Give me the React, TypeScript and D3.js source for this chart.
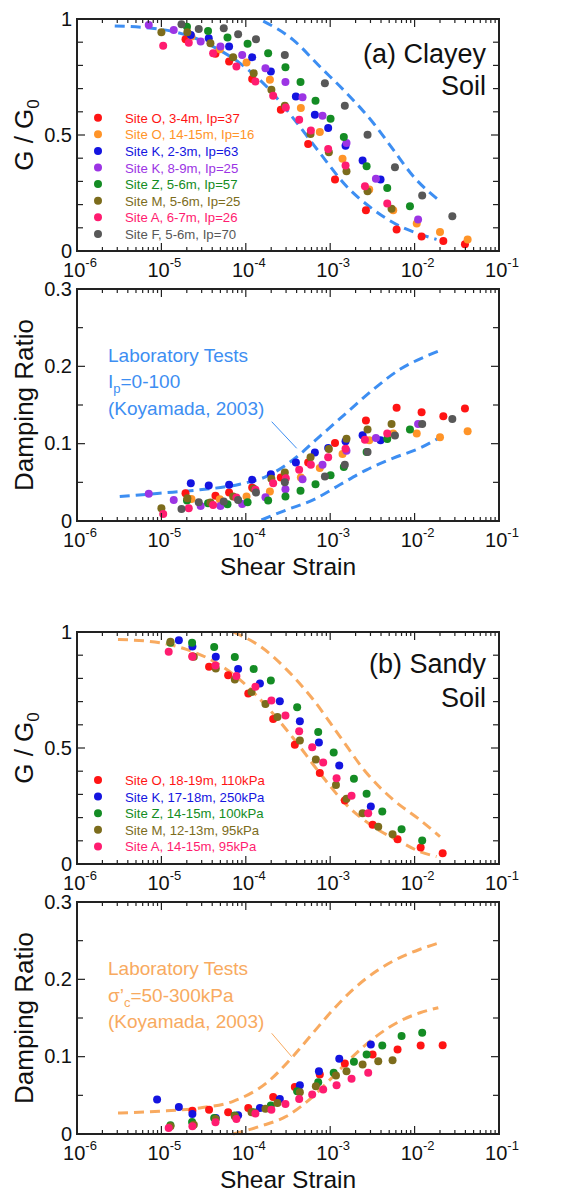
import React from 'react';
import * as d3 from 'd3';

type Pt = [number, number];

// ---------- (a) Clayey soil: [shear strain, G/G0] ----------
const clayG_O3: Pt[] = [[1.93e-5,0.913],[4.37e-5,0.850],[6.34e-5,0.817],[1.19e-4,0.741],[2.60e-4,0.609],[5.48e-4,0.461],[1.14e-3,0.308],[2.65e-3,0.176],[6.12e-3,0.093],[1.21e-2,0.062],[2.19e-2,0.043],[3.95e-2,0.029]];
const clayG_O14: Pt[] = [[2.27e-5,0.925],[4.92e-5,0.870],[1.02e-4,0.812],[1.93e-4,0.738],[4.49e-4,0.616],[7.53e-4,0.513],[1.40e-3,0.398],[2.90e-3,0.265],[5.58e-3,0.176],[1.06e-2,0.119],[2.00e-2,0.082],[4.25e-2,0.050]];
const clayG_K2: Pt[] = [[2.23e-5,0.931],[3.64e-5,0.917],[6.34e-5,0.881],[1.19e-4,0.835],[1.98e-4,0.774],[3.92e-4,0.666],[6.58e-4,0.587],[9.46e-4,0.530],[1.52e-3,0.454],[2.42e-3,0.390],[3.95e-3,0.308]];
const clayG_K8: Pt[] = [[7.08e-6,0.974],[1.40e-5,0.953],[2.92e-5,0.903],[5.01e-5,0.881],[9.06e-5,0.845],[1.71e-4,0.788],[2.95e-4,0.728],[4.70e-4,0.663],[8.11e-4,0.583],[1.56e-3,0.466],[3.48e-3,0.311],[1.10e-2,0.136]];
const clayG_Z5: Pt[] = [[2.01e-5,0.967],[3.57e-5,0.948],[6.07e-5,0.920],[1.05e-4,0.893],[1.84e-4,0.852],[2.95e-4,0.792],[4.45e-4,0.728],[6.70e-4,0.648],[1.01e-3,0.570],[1.45e-3,0.491],[2.70e-3,0.365],[4.74e-3,0.272],[8.81e-3,0.193]];
const clayG_M5: Pt[] = [[1.00e-5,0.943],[2.03e-5,0.943],[3.81e-5,0.895],[7.08e-5,0.835],[1.24e-4,0.766],[2.01e-4,0.695],[2.90e-4,0.626],[5.85e-4,0.504],[9.64e-4,0.426],[1.56e-3,0.344],[2.77e-3,0.258],[5.33e-3,0.182]];
const clayG_A6: Pt[] = [[1.05e-5,0.885],[2.11e-5,0.898],[4.10e-5,0.852],[7.74e-5,0.795],[1.30e-4,0.731],[2.11e-4,0.669],[2.98e-4,0.619],[4.29e-4,0.566],[5.90e-4,0.519],[9.46e-4,0.440],[1.52e-3,0.368],[2.58e-3,0.279],[4.74e-3,0.205]];
const clayG_F5: Pt[] = [[1.73e-5,0.977],[2.77e-5,0.957],[5.48e-5,0.960],[8.11e-5,0.934],[1.32e-4,0.913],[2.90e-4,0.845],[8.65e-4,0.723],[1.49e-3,0.626],[2.77e-3,0.501],[5.85e-3,0.361],[1.23e-2,0.239],[2.80e-2,0.150]];

// ---------- (a) Clayey soil: [shear strain, damping ratio] ----------
const clayD_O3: Pt[] = [[1.93e-5,0.0359],[4.37e-5,0.0325],[6.34e-5,0.0368],[1.19e-4,0.0433],[2.60e-4,0.0563],[5.48e-4,0.0758],[1.14e-3,0.1009],[2.65e-3,0.1299],[6.12e-3,0.1463],[1.21e-2,0.1407],[2.19e-2,0.1355],[3.95e-2,0.1455]];
const clayD_O14: Pt[] = [[2.27e-5,0.0286],[4.92e-5,0.0281],[1.02e-4,0.0316],[1.93e-4,0.0381],[4.49e-4,0.0563],[7.53e-4,0.0684],[1.40e-3,0.0866],[2.90e-3,0.1043],[5.58e-3,0.1130],[1.06e-2,0.1130],[2.00e-2,0.1082],[4.25e-2,0.1160]];
const clayD_K2: Pt[] = [[2.23e-5,0.0489],[3.64e-5,0.0459],[6.34e-5,0.0468],[1.19e-4,0.0532],[1.98e-4,0.0606],[3.92e-4,0.0758],[6.58e-4,0.0887],[9.46e-4,0.0944],[1.52e-3,0.1030],[2.42e-3,0.1108],[3.95e-3,0.1043]];
const clayD_K8: Pt[] = [[7.08e-6,0.0351],[1.40e-5,0.0273],[2.92e-5,0.0195],[5.01e-5,0.0195],[9.06e-5,0.0221],[1.71e-4,0.0307],[2.95e-4,0.0411],[4.70e-4,0.0541],[8.11e-4,0.0727],[1.56e-3,0.0909],[3.48e-3,0.1074],[1.10e-2,0.1255]];
const clayD_Z5: Pt[] = [[2.01e-5,0.0264],[3.57e-5,0.0229],[6.07e-5,0.0216],[1.05e-4,0.0242],[1.84e-4,0.0264],[2.95e-4,0.0316],[4.45e-4,0.0390],[6.70e-4,0.0476],[1.01e-3,0.0593],[1.45e-3,0.0697],[2.70e-3,0.0892],[4.74e-3,0.1061],[8.81e-3,0.1182]];
const clayD_M5: Pt[] = [[1.00e-5,0.0165],[2.03e-5,0.0294],[3.81e-5,0.0238],[7.08e-5,0.0316],[1.24e-4,0.0416],[2.01e-4,0.0545],[2.90e-4,0.0628],[5.85e-4,0.0823],[9.64e-4,0.0931],[1.56e-3,0.1065],[2.77e-3,0.1182],[5.33e-3,0.1255]];
const clayD_A6: Pt[] = [[1.05e-5,0.0091],[2.11e-5,0.0165],[4.10e-5,0.0208],[7.74e-5,0.0303],[1.30e-4,0.0403],[2.11e-4,0.0489],[2.98e-4,0.0554],[4.29e-4,0.0662],[5.90e-4,0.0727],[9.46e-4,0.0823],[1.52e-3,0.0935],[2.58e-3,0.1052],[4.74e-3,0.1130]];
const clayD_F5: Pt[] = [[1.73e-5,0.0156],[2.77e-5,0.0242],[5.48e-5,0.0251],[8.11e-5,0.0273],[1.32e-4,0.0368],[2.90e-4,0.0502],[8.65e-4,0.0576],[1.49e-3,0.0727],[2.77e-3,0.0892],[5.85e-3,0.1104],[1.23e-2,0.1255],[2.80e-2,0.1320]];

// ---------- (b) Sandy soil: [shear strain, G/G0] ----------
const sandG_O18: Pt[] = [[2.33e-5,0.895],[3.67e-5,0.850],[6.18e-5,0.814],[1.07e-4,0.735],[2.11e-4,0.625],[3.81e-4,0.514],[7.53e-4,0.392],[1.49e-3,0.274],[3.18e-3,0.169],[6.28e-3,0.107],[1.18e-2,0.071],[2.15e-2,0.046]];
const sandG_K17: Pt[] = [[1.61e-5,0.964],[2.33e-5,0.937],[4.41e-5,0.893],[8.11e-5,0.841],[1.47e-4,0.778],[2.53e-4,0.702],[4.37e-4,0.615],[7.35e-4,0.524],[1.28e-3,0.425],[3.03e-3,0.248]];
const sandG_Z14: Pt[] = [[1.28e-5,0.954],[2.31e-5,0.954],[4.22e-5,0.935],[7.41e-5,0.892],[1.24e-4,0.841],[1.98e-4,0.791],[4.06e-4,0.676],[7.21e-4,0.569],[1.10e-3,0.481],[1.91e-3,0.367],[2.70e-3,0.303],[4.14e-3,0.226],[7.01e-3,0.150],[1.23e-2,0.101]];
const sandG_M12: Pt[] = [[1.28e-5,0.958],[2.42e-5,0.893],[4.41e-5,0.843],[7.41e-5,0.795],[1.17e-4,0.741],[1.71e-4,0.690],[2.37e-4,0.634],[4.37e-4,0.532],[6.76e-4,0.450],[1.17e-3,0.341],[1.56e-3,0.281],[2.42e-3,0.219],[3.71e-3,0.161],[5.48e-3,0.128]];
const sandG_A14: Pt[] = [[1.22e-5,0.915],[2.33e-5,0.893],[4.37e-5,0.856],[7.74e-5,0.810],[1.30e-4,0.764],[2.01e-4,0.705],[2.95e-4,0.640],[4.29e-4,0.572],[6.12e-4,0.503],[8.26e-4,0.438],[1.19e-3,0.370],[1.79e-3,0.294],[2.82e-3,0.219]];

// ---------- (b) Sandy soil: [shear strain, damping ratio] ----------
const sandD_O18: Pt[] = [[2.33e-5,0.0302],[3.67e-5,0.0315],[6.18e-5,0.0281],[1.07e-4,0.0337],[2.11e-4,0.0479],[3.81e-4,0.0609],[7.53e-4,0.0769],[1.49e-3,0.0911],[3.18e-3,0.1028],[6.28e-3,0.1093],[1.18e-2,0.1145],[2.15e-2,0.1149]];
const sandD_K17: Pt[] = [[8.89e-6,0.0445],[1.61e-5,0.0350],[2.33e-5,0.0259],[4.41e-5,0.0207],[8.11e-5,0.0242],[1.47e-4,0.0337],[2.53e-4,0.0454],[4.37e-4,0.0631],[7.35e-4,0.0812],[1.28e-3,0.0972],[3.03e-3,0.1158]];
const sandD_Z14: Pt[] = [[1.28e-5,0.0112],[2.31e-5,0.0156],[4.22e-5,0.0207],[7.41e-5,0.0238],[1.24e-4,0.0281],[1.98e-4,0.0367],[4.06e-4,0.0553],[7.21e-4,0.0670],[1.10e-3,0.0791],[1.91e-3,0.0933],[2.70e-3,0.1028],[4.14e-3,0.1145],[7.01e-3,0.1266],[1.23e-2,0.1309]];
const sandD_M12: Pt[] = [[1.28e-5,0.0099],[2.42e-5,0.0121],[4.41e-5,0.0194],[7.41e-5,0.0229],[1.17e-4,0.0281],[1.71e-4,0.0328],[2.37e-4,0.0402],[4.37e-4,0.0540],[6.76e-4,0.0618],[1.17e-3,0.0756],[1.56e-3,0.0812],[2.42e-3,0.0898],[3.71e-3,0.0942],[5.48e-3,0.0955]];
const sandD_A14: Pt[] = [[1.22e-5,0.0078],[2.33e-5,0.0099],[4.37e-5,0.0151],[7.74e-5,0.0194],[1.30e-4,0.0264],[2.01e-4,0.0315],[2.95e-4,0.0389],[4.29e-4,0.0454],[6.12e-4,0.0510],[8.26e-4,0.0575],[1.19e-3,0.0631],[1.79e-3,0.0713],[2.82e-3,0.0791]];

// ---------- Laboratory test bounds (Koyamada, 2003) ----------
const clayGLower: Pt[] = [[2.80e-6,0.970],[9.55e-6,0.956],[1.98e-5,0.931],[4.10e-5,0.881],[8.49e-5,0.810],[1.76e-4,0.709],[3.64e-4,0.573],[7.53e-4,0.423],[1.56e-3,0.279],[3.24e-3,0.179],[6.70e-3,0.107],[1.16e-2,0.072],[1.82e-2,0.050]];
const clayGUpper: Pt[] = [[1.61e-4,0.991],[3.64e-4,0.910],[7.53e-4,0.795],[1.56e-3,0.681],[3.24e-3,0.552],[5.58e-3,0.437],[9.64e-3,0.322],[2.00e-2,0.215]];
const clayDUpper: Pt[] = [[3.21e-6,0.0316],[9.55e-6,0.0359],[2.85e-5,0.0403],[8.49e-5,0.0476],[1.76e-4,0.0576],[3.64e-4,0.0792],[7.53e-4,0.1095],[1.56e-3,0.1398],[3.24e-3,0.1701],[6.70e-3,0.1961],[1.39e-2,0.2134],[2.09e-2,0.2212]];
const clayDLower: Pt[] = [[1.53e-4,0.0013],[3.03e-4,0.0143],[6.28e-4,0.0273],[1.30e-3,0.0468],[2.70e-3,0.0662],[5.58e-3,0.0814],[1.16e-2,0.0944],[2.00e-2,0.1082]];
const sandGLower: Pt[] = [[3.06e-6,0.968],[9.55e-6,0.954],[1.98e-5,0.925],[4.10e-5,0.875],[8.49e-5,0.795],[1.76e-4,0.680],[3.64e-4,0.543],[7.53e-4,0.392],[1.56e-3,0.255],[3.24e-3,0.161],[6.70e-3,0.097],[1.16e-2,0.053],[1.82e-2,0.032]];
const sandGUpper: Pt[] = [[7.08e-5,1.0],[1.47e-4,0.939],[3.03e-4,0.839],[6.28e-4,0.709],[1.30e-3,0.550],[2.70e-3,0.392],[5.58e-3,0.277],[1.16e-2,0.190],[2.00e-2,0.118]];
const sandDUpper: Pt[] = [[3.06e-6,0.0272],[9.55e-6,0.0294],[2.85e-5,0.0337],[7.08e-5,0.0423],[1.76e-4,0.0661],[3.64e-4,0.1006],[6.28e-4,0.1309],[1.09e-3,0.1611],[1.87e-3,0.187],[3.54e-3,0.2108],[6.70e-3,0.2281],[1.16e-2,0.2389],[2.00e-2,0.2475]];
const sandDLower: Pt[] = [[7.08e-5,0.0],[1.47e-4,0.0099],[3.03e-4,0.0229],[6.28e-4,0.0488],[1.09e-3,0.0747],[1.87e-3,0.1006],[3.54e-3,0.1266],[6.70e-3,0.1460],[1.16e-2,0.1568],[1.91e-2,0.1633]];

// ---------- labels ----------
const clayNames = ['Site O, 3-4m, Ip=37','Site O, 14-15m, Ip=16','Site K, 2-3m, Ip=63','Site K, 8-9m, Ip=25','Site Z, 5-6m, Ip=57','Site M, 5-6m, Ip=25','Site A, 6-7m, Ip=26','Site F, 5-6m, Ip=70'];
const clayColors = ['#ff1414','#ff9428','#1414e0','#9c34e4','#148c24','#7c6c1c','#ff1c70','#585858'];
const sandNames = ['Site O, 18-19m, 110kPa','Site K, 17-18m, 250kPa','Site Z, 14-15m, 100kPa','Site M, 12-13m, 95kPa','Site A, 14-15m, 95kPa'];
const sandColors = ['#ff1414','#1414e0','#148c24','#7c6c1c','#ff1c70'];
const decadeExps = [-6,-5,-4,-3,-2,-1];
const gTickLabels = [0, 0.5, 1];
const dTickLabels = [0, 0.1, 0.2, 0.3];

const clayGSeries = [clayG_O3, clayG_O14, clayG_K2, clayG_K8, clayG_Z5, clayG_M5, clayG_A6, clayG_F5];
const clayDSeries = [clayD_O3, clayD_O14, clayD_K2, clayD_K8, clayD_Z5, clayD_M5, clayD_A6, clayD_F5];
const sandGSeries = [sandG_O18, sandG_K17, sandG_Z14, sandG_M12, sandG_A14];
const sandDSeries = [sandD_O18, sandD_K17, sandD_Z14, sandD_M12, sandD_A14];

const BLUE = '#3d8ef2';
const ORANGE = '#f8aa60';
const FONT = '"Liberation Sans", Arial, Helvetica, sans-serif';
const W = 582, H = 1193;
const L = 77, R = 499, PH = 232;

const xScale = d3.scaleLog().domain([1e-6, 1e-1]).range([L, R]);

type PanelProps = {
  top: number;
  yMax: number;
  minorStep: number;
  majorStep: number;
  tickLabels: number[];
  series: Pt[][];
  colors: string[];
  curves: Pt[][];
  curveColor: string;
  yTitle: React.ReactNode;
  xTitle: boolean;
  children?: React.ReactNode;
};

function Panel(p: PanelProps) {
  const y = d3.scaleLinear().domain([0, p.yMax]).range([p.top + PH, p.top]);
  const bottom = p.top + PH;
  const line = d3.line<Pt>().x(d => xScale(d[0])).y(d => y(d[1])).curve(d3.curveMonotoneX);
  const xTicks: { v: number; major: boolean }[] = [];
  for (const e of decadeExps) {
    xTicks.push({ v: Math.pow(10, e), major: true });
    if (e < -1) for (let k = 2; k <= 9; k++) xTicks.push({ v: k * Math.pow(10, e), major: false });
  }
  const nY = Math.round(p.yMax / p.minorStep);
  const yTicks = d3.range(0, nY + 1).map(i => i * p.minorStep);
  return (
    <g>
      {p.curves.map((c, i) => (
        <path key={'c' + i} d={line(c) || ''} fill="none" stroke={p.curveColor} strokeWidth={3} strokeDasharray="10 6" />
      ))}
      {p.series.map((s, si) => s.map((d, i) => (
        <circle key={si + '-' + i} cx={xScale(d[0])} cy={y(d[1])} r={4} fill={p.colors[si]} />
      )))}
      <rect x={L} y={p.top} width={R - L} height={PH} fill="none" stroke="#222" strokeWidth={2} />
      {xTicks.map((t, i) => {
        const xx = xScale(t.v);
        const len = t.major ? 8 : 4;
        return (
          <g key={'xt' + i} stroke="#222" strokeWidth={1.2}>
            <line x1={xx} x2={xx} y1={bottom} y2={bottom - len} />
            <line x1={xx} x2={xx} y1={p.top} y2={p.top + len} />
          </g>
        );
      })}
      {yTicks.map((v, i) => {
        const yy = y(v);
        const major = Math.abs(v / p.majorStep - Math.round(v / p.majorStep)) < 1e-6;
        const len = major ? 8 : 6;
        return (
          <g key={'yt' + i} stroke="#222" strokeWidth={1.2}>
            <line x1={L} x2={L + len} y1={yy} y2={yy} />
            <line x1={R} x2={R - len} y1={yy} y2={yy} />
          </g>
        );
      })}
      {decadeExps.map(e => (
        <text key={'xl' + e} x={xScale(Math.pow(10, e)) + 3} y={bottom + 26} textAnchor="middle" fontSize={20} fill="#111" fontFamily={FONT}>
          10<tspan fontSize={13} dy={-10}>{String(e)}</tspan>
        </text>
      ))}
      {p.tickLabels.map(v => (
        <text key={'yl' + v} x={72} y={y(v) + 6.5} textAnchor="end" fontSize={20} fill="#111" fontFamily={FONT}>{String(v)}</text>
      ))}
      <text transform={`translate(33,${p.top + PH / 2}) rotate(-90)`} textAnchor="middle" fontSize={26} fill="#111" fontFamily={FONT}>{p.yTitle}</text>
      {p.xTitle && (
        <text x={(L + R) / 2} y={bottom + 54} textAnchor="middle" fontSize={24.5} fill="#111" fontFamily={FONT}>Shear Strain</text>
      )}
      {p.children}
    </g>
  );
}

function Legend({ top, names, colors }: { top: number; names: string[]; colors: string[] }) {
  return (
    <g>
      {names.map((n, i) => (
        <g key={n}>
          <circle cx={98} cy={top + i * 16.6} r={4} fill={colors[i]} />
          <text x={125} y={top + i * 16.6 + 5} fontSize={13.2} fill={colors[i]} fontFamily={FONT}>{n}</text>
        </g>
      ))}
    </g>
  );
}

export default function App() {
  const tops = [19, 289, 632, 902];
  const gTitle = (<>G / G<tspan fontSize={17} dy={6}>0</tspan></>);
  return (
    <svg width={W} height={H} style={{ position: 'absolute', left: 0, top: 0, background: '#fff' }} fontFamily={FONT}>
      <rect width={W} height={H} fill="#fff" />
      <Panel top={tops[0]} yMax={1} minorStep={0.1} majorStep={0.5} tickLabels={gTickLabels}
        series={clayGSeries} colors={clayColors} curves={[clayGLower, clayGUpper]} curveColor={BLUE}
        yTitle={gTitle} xTitle={false}>
        <text x={486} y={63} textAnchor="end" fontSize={27} fill="#111">(a) Clayey</text>
        <text x={486} y={95} textAnchor="end" fontSize={27} fill="#111">Soil</text>
        <Legend top={117.7} names={clayNames} colors={clayColors} />
      </Panel>
      <Panel top={tops[1]} yMax={0.3} minorStep={0.05} majorStep={0.1} tickLabels={dTickLabels}
        series={clayDSeries} colors={clayColors} curves={[clayDUpper, clayDLower]} curveColor={BLUE}
        yTitle={'Damping Ratio'} xTitle={true}>
        <g fill={BLUE} fontSize={19}>
          <text x={108} y={361.7}>Laboratory Tests</text>
          <text x={108} y={388}>I<tspan fontSize={13} dy={5}>p</tspan><tspan dy={-5}>=0-100</tspan></text>
          <text x={108} y={415}>(Koyamada, 2003)</text>
        </g>
        <line x1={271.7} y1={421.7} x2={296.7} y2={448.3} stroke={BLUE} strokeWidth={1} />
      </Panel>
      <Panel top={tops[2]} yMax={1} minorStep={0.1} majorStep={0.5} tickLabels={gTickLabels}
        series={sandGSeries} colors={sandColors} curves={[sandGLower, sandGUpper]} curveColor={ORANGE}
        yTitle={gTitle} xTitle={false}>
        <text x={486} y={673} textAnchor="end" fontSize={27} fill="#111">(b) Sandy</text>
        <text x={486} y={706.7} textAnchor="end" fontSize={27} fill="#111">Soil</text>
        <Legend top={780} names={sandNames} colors={sandColors} />
      </Panel>
      <Panel top={tops[3]} yMax={0.3} minorStep={0.05} majorStep={0.1} tickLabels={dTickLabels}
        series={sandDSeries} colors={sandColors} curves={[sandDUpper, sandDLower]} curveColor={ORANGE}
        yTitle={'Damping Ratio'} xTitle={true}>
        <g fill={ORANGE} fontSize={19}>
          <text x={108} y={975}>Laboratory Tests</text>
          <text x={108} y={1001.7}>σ’<tspan fontSize={13} dy={5}>c</tspan><tspan dy={-5}>=50-300kPa</tspan></text>
          <text x={108} y={1028}>(Koyamada, 2003)</text>
        </g>
        <line x1={271.7} y1={1033.3} x2={291.7} y2={1056.7} stroke={ORANGE} strokeWidth={1} />
      </Panel>
    </svg>
  );
}
